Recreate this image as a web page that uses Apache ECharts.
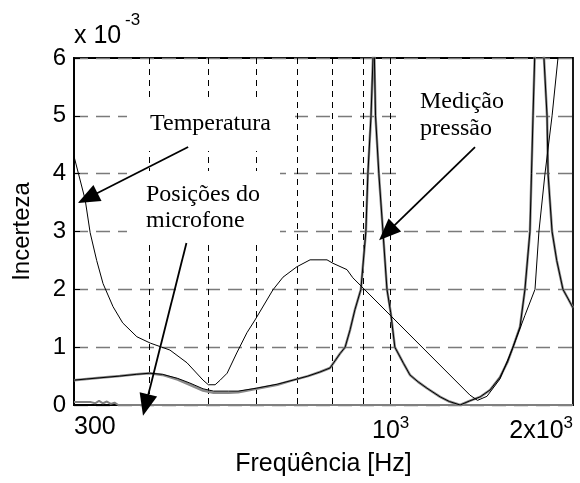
<!DOCTYPE html>
<html><head><meta charset="utf-8">
<script src="https://cdn.jsdelivr.net/npm/echarts@6/dist/echarts.min.js"></script>
<style>html,body{margin:0;padding:0;background:#fff}#c{width:580px;height:483px}</style>
</head><body><div id="c"></div>
<script>
// ---- data (uncertainty in units of 1e-3) ----
const pressFreq = [300,315,331,357,380,400,420,445,466,490,510,540,560,600,650,690,730,764,794,825,841,857,873,893,910,917,928,935,937,940,944,956,971,986,1000,1016,1050,1076,1110,1148,1207,1250,1302,1350,1405,1459,1515,1560,1592,1635,1666,1698,1708,1718,1731,1760,1791,1812,1819,1847,1880,1925,1960,2000];
const pressVal = [0.43,0.45,0.47,0.50,0.53,0.55,0.53,0.46,0.38,0.28,0.24,0.24,0.24,0.29,0.36,0.43,0.50,0.57,0.64,0.89,1.0,1.3,1.65,2.0,3.0,4.0,5.0,6.0,14,6.0,5.0,4.0,3.0,2.0,1.6,1.0,0.72,0.52,0.4,0.29,0.14,0.06,0.0,0.07,0.14,0.26,0.48,0.75,1.0,1.35,2.0,3.0,4.0,5.0,6.2,12,6.0,5.0,4.0,3.0,2.5,2.0,1.85,1.68];
const pressGrayVal = [0.43,0.45,0.47,0.50,0.53,0.55,0.52,0.44,0.35,0.25,0.21,0.21,0.22,0.28,0.35,0.43,0.50,0.57,0.64,0.89,1.0,1.3,1.65,2.0,3.0,4.0,5.0,6.0,14,6.0,5.0,4.0,3.0,2.0,1.6,1.0,0.72,0.52,0.4,0.29,0.14,0.06,0.0,0.07,0.14,0.26,0.48,0.75,1.0,1.35,2.0,3.0,4.0,5.0,6.2,12,6.0,5.0,4.0,3.0,2.5,2.0,1.85,1.68];
const tempFreq = [300,313,319,327,335,348,361,381,401,432,461,490,500,513,523,537,557,579,597,639,664,700,736,785,803,847,866,1352,1391,1442,1515,1592,1666,1731,1757,1798,1847,1889,2000];
const tempVal = [4.3,3.55,2.98,2.5,2.1,1.7,1.42,1.18,1.07,0.95,0.73,0.43,0.35,0.35,0.43,0.55,0.9,1.25,1.47,1.99,2.21,2.39,2.51,2.51,2.45,2.34,2.2,0.17,0.08,0.15,0.45,1.0,1.55,2.0,3.0,4.0,5.0,6.0,10];
const micFreq = [300,320,325,330,335,340,345,350,355,2000];
const micVal = [0.05,0.05,0.03,0.07,0.03,0.06,0.02,0.04,0,0];
const gridFreqs = [400,500,600,700,800,900,1000];
const xLabelFreqs = [300,1000,2000];
const yTickVals = [0,1,2,3,4,5,6];
// annotation arrows: [from, to] in data coordinates (Hz, 1e-3)
const arrowTemp = [[463,4.46],[316,3.58]];
const arrowMic = [[460,2.80],[394,0]];
const arrowPress = [[1378,4.46],[986,2.98]];

const zip = (xs, ys) => xs.map((x, i) => [x, ys[i]]);
const SANS = 'Liberation Sans, Arial, sans-serif';
const SERIF = 'Liberation Serif, Times New Roman, serif';

const chart = echarts.init(document.getElementById('c'), null, {renderer: 'canvas'});
const arrowLine = (a) => [{coord: a[0]}, {coord: a[1]}];

chart.setOption({
  animation: false,
  backgroundColor: '#fff',
  grid: {left: 74, right: 7, top: 58, bottom: 78, show: true, borderColor: '#000', borderWidth: 1.8, backgroundColor: 'transparent', outerBoundsMode: 'none', containLabel: false},
  xAxis: {
    type: 'log', logBase: 10, min: 300, max: 2000,
    name: 'Freqüência [Hz]', nameLocation: 'middle', nameGap: 47,
    nameTextStyle: {fontFamily: SANS, fontSize: 25, color: '#000'},
    axisLine: {show: true, lineStyle: {color: '#000', width: 2}},
    axisTick: {show: true, inside: true, length: 7, customValues: gridFreqs, lineStyle: {color: '#000', width: 1}},
    splitLine: {show: true, lineStyle: {color: '#000', width: 1, type: [6, 5]}},
    axisLabel: {
      show: true, customValues: xLabelFreqs, margin: 10, color: '#000',
      alignMinLabel: 'left', alignMaxLabel: 'right',
      formatter: (v) => {
        const r = Math.round(v);
        if (r === 1000) return '{n|10}{s|3}';
        if (r === 2000) return '{n|2x10}{s|3}';
        return '{n|' + r + '}';
      },
      rich: {
        n: {fontFamily: SANS, fontSize: 25, color: '#000', verticalAlign: 'bottom'},
        s: {fontFamily: SANS, fontSize: 17, color: '#000', verticalAlign: 'bottom', padding: [0, 0, 12, 0]}
      }
    }
  },
  yAxis: {
    type: 'value', min: 0, max: 6, interval: 1,
    name: 'Incerteza', nameLocation: 'middle', nameGap: 40, nameRotate: 90,
    nameTextStyle: {fontFamily: SANS, fontSize: 24, color: '#000'},
    axisLine: {show: true, lineStyle: {color: '#000', width: 1.8}},
    axisTick: {show: true, inside: true, length: 6, lineStyle: {color: '#000'}},
    splitLine: {show: true, lineStyle: {color: '#7a7a7a', width: 1.3, type: [14, 8]}},
    axisLabel: {fontFamily: SANS, fontSize: 24, color: '#000', margin: 8,
      formatter: (v) => yTickVals.includes(v) ? String(v) : ''}
  },
  graphic: [
    {type: 'rect', z: 1, shape: {x: 127, y: 97, width: 168, height: 54}, style: {fill: '#fff'}},
    {type: 'rect', z: 1, shape: {x: 127, y: 171, width: 153, height: 72}, style: {fill: '#fff'}},
    {type: 'rect', z: 1, shape: {x: 397, y: 80, width: 133, height: 100}, style: {fill: '#fff'}},
    {type: 'text', z: 10, x: 150, y: 124, style: {text: 'Temperatura', fontFamily: SERIF, fontSize: 24, fill: '#000', verticalAlign: 'middle'}},
    {type: 'text', z: 10, x: 146, y: 195, style: {text: 'Posições do', fontFamily: SERIF, fontSize: 24, fill: '#000', verticalAlign: 'middle'}},
    {type: 'text', z: 10, x: 146, y: 221, style: {text: 'microfone', fontFamily: SERIF, fontSize: 24, fill: '#000', verticalAlign: 'middle'}},
    {type: 'text', z: 10, x: 420, y: 102, style: {text: 'Medição', fontFamily: SERIF, fontSize: 24, fill: '#000', verticalAlign: 'middle'}},
    {type: 'text', z: 10, x: 420, y: 129, style: {text: 'pressão', fontFamily: SERIF, fontSize: 24, fill: '#000', verticalAlign: 'middle'}},
    {type: 'text', z: 10, x: 74, y: 36, style: {text: 'x 10', fontFamily: SANS, fontSize: 25, fill: '#000', verticalAlign: 'middle'}},
    {type: 'text', z: 10, x: 125, y: 20, style: {text: '-3', fontFamily: SANS, fontSize: 17, fill: '#000', verticalAlign: 'middle'}}
  ],
  series: [
    {type: 'line', name: 'Posições do microfone', z: 2, data: zip(micFreq, micVal), symbol: 'none', clip: true,
      lineStyle: {color: '#808080', width: 2}},
    {type: 'line', name: 'Medição pressão (cinza)', z: 2, data: zip(pressFreq, pressGrayVal), symbol: 'none', clip: true,
      lineStyle: {color: '#8a8a8a', width: 2.5}},
    {type: 'line', name: 'Medição pressão', z: 3, data: zip(pressFreq, pressVal), symbol: 'none', clip: true,
      lineStyle: {color: '#000', width: 1}},
    {type: 'line', name: 'Temperatura', z: 3, data: zip(tempFreq, tempVal), symbol: 'none', clip: true,
      lineStyle: {color: '#000', width: 1}},
    {type: 'line', name: 'arrows', z: 5, data: [], symbol: 'none',
      markLine: {silent: true, symbol: ['none', 'triangle'], symbolSize: [18, 22], animation: false,
        label: {show: false}, lineStyle: {color: '#000', width: 1.8, type: 'solid'},
        data: [arrowLine(arrowTemp), arrowLine(arrowMic), arrowLine(arrowPress)]}}
  ]
});
</script></body></html>
